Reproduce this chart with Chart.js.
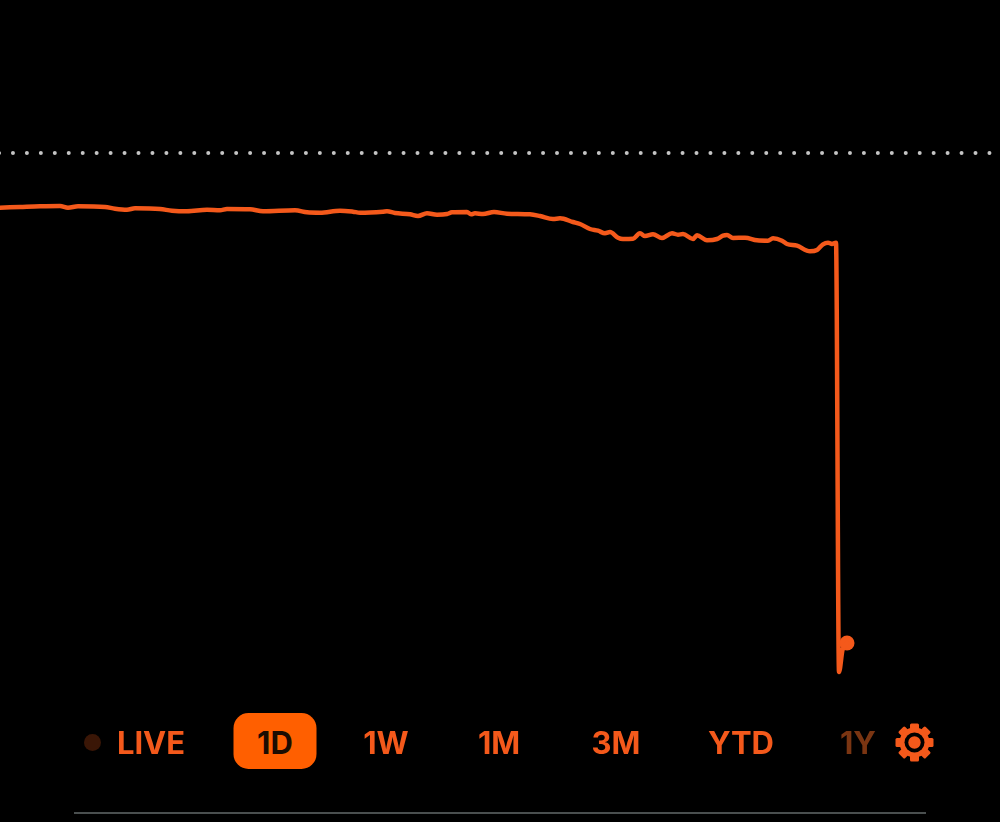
<!DOCTYPE html>
<html>
<head>
<meta charset="utf-8">
<title>1D</title>
<script src="https://cdn.jsdelivr.net/npm/chart.js@4/dist/chart.umd.min.js"></script>
<style>
  html, body { margin: 0; padding: 0; background: #000; }
  #wrap { position: relative; width: 1000px; height: 822px; overflow: hidden; background: #000; }
  #priceChart { position: absolute; left: 0; top: 0; }
  .tab {
    position: absolute; top: 713px; height: 56px; line-height: 59px; text-align: center;
    font-family: Inter, Roboto, sans-serif; font-weight: 700; font-size: 31px;
    color: #f4591b; transform: translateX(-50%); white-space: nowrap;
  }
  .tab.active { left: 275px; width: 83px; background: #ff5f00; color: #1c0c02; border-radius: 15px; }
  .tab.dim { color: #7a3512; }
  #liveDot { position: absolute; left: 84px; top: 734px; width: 17px; height: 17px; border-radius: 50%; background: #3a1606; }
  #rule { position: absolute; left: 74px; top: 812px; width: 852px; height: 2px; background: #4a4f4f; }
  #gear { position: absolute; left: 894px; top: 722px; }
</style>
</head>
<body>
<div id="wrap">
  <canvas id="priceChart" width="1000" height="822"></canvas>
  <span id="liveDot"></span>
  <div class="tab" style="left:151px">LIVE</div>
  <div class="tab active">1D</div>
  <div class="tab" style="left:386px">1W</div>
  <div class="tab" style="left:499px">1M</div>
  <div class="tab" style="left:616px">3M</div>
  <div class="tab" style="left:741px">YTD</div>
  <div class="tab dim" style="left:858px">1Y</div>
  <svg id="gear" width="41" height="41" viewBox="-20.5 -20.5 41 41">
    <g fill="#f4591b">
      <rect x="-4.5" y="-19" width="9" height="38" rx="1.5"/>
      <rect x="-4.5" y="-19" width="9" height="38" rx="1.5" transform="rotate(45)"/>
      <rect x="-4.5" y="-19" width="9" height="38" rx="1.5" transform="rotate(90)"/>
      <rect x="-4.5" y="-19" width="9" height="38" rx="1.5" transform="rotate(135)"/>
      <circle r="15"/>
    </g>
    <circle r="10" fill="#000"/>
    <circle r="6.2" fill="#f4591b"/>
  </svg>
  <div id="rule"></div>
</div>
<script>
// Datos
const times = [0, 20, 40, 60, 68, 78, 105, 115, 127, 135, 160, 172, 187, 207, 220, 227, 250, 263, 295, 307, 320,
  340, 353, 360, 383, 387, 395, 410, 418, 427, 437, 447, 452, 467, 471, 475, 483, 494, 507, 530, 540, 553, 560, 573, 580,
  590, 598, 605, 610, 618, 623, 633, 640, 645, 653, 662, 672, 678, 683, 693, 697, 707, 717, 723, 727, 733, 745, 757, 768,
  773, 782, 787, 797, 810, 817, 823, 828, 832, 836, 839, 842.5, 847];
const prices = [122.86, 123.0, 123.14, 123.2, 122.86, 123.14, 123.0, 122.66, 122.46, 122.74, 122.6, 122.26, 122.14, 122.46, 122.34, 122.6, 122.54, 122.14, 122.34, 121.94, 121.86,
  122.26, 122.06, 121.86, 122.06, 122.14, 121.8, 121.54, 121.2, 121.74, 121.46, 121.6, 121.94, 122.0, 121.54, 121.74, 121.6, 122.0, 121.66, 121.54, 121.2, 120.6, 120.74, 120.0, 119.6,
  118.6, 118.26, 117.74, 118.0, 116.86, 116.6, 116.66, 117.74, 117.2, 117.54, 116.8, 117.74, 117.46, 117.6, 116.6, 117.34, 116.34, 116.6, 117.26, 117.4, 116.8, 116.86, 116.34, 116.26,
  116.74, 116.26, 115.6, 115.26, 114.14, 114.4, 115.54, 115.86, 115.6, 115.86, 30.0, 34.4, 35.8];
const prevClose = 133.8;
const prevCloseSpan = [-1, 990];
const timeRange = [0, 1000];
const priceRange = [0, 164.4];

const lineColor = '#f4591b';

document.addEventListener('DOMContentLoaded', function() {
    const last = times.length - 1;
    const config = {
        type: 'line',
        data: {
            datasets: [
                {
                    // linea punteada del cierre anterior
                    data: prevCloseSpan.map(t => ({ x: t, y: prevClose })),
                    borderColor: '#c4c4c4',
                    borderWidth: 4,
                    borderDash: [0, 13.95],
                    borderCapStyle: 'round',
                    pointRadius: 0
                },
                {
                    data: times.map((t, i) => ({ x: t, y: prices[i] })),
                    borderColor: lineColor,
                    borderWidth: 4.5,
                    borderJoinStyle: 'round',
                    borderCapStyle: 'round',
                    cubicInterpolationMode: 'monotone',
                    pointRadius: 0
                },
                {
                    // punto del ultimo precio
                    data: [{ x: times[last], y: prices[last] }],
                    pointRadius: 7.5,
                    pointBorderWidth: 0,
                    pointBackgroundColor: lineColor,
                    showLine: false
                }
            ]
        },
        options: {
            responsive: false,
            animation: false,
            layout: { padding: 0, autoPadding: false },
            plugins: { legend: { display: false }, tooltip: { enabled: false } },
            scales: {
                x: { type: 'linear', display: false, min: timeRange[0], max: timeRange[1] },
                y: { type: 'linear', display: false, min: priceRange[0], max: priceRange[1] }
            }
        }
    };

    new Chart(document.getElementById('priceChart'), config);
});
</script>
</body>
</html>
